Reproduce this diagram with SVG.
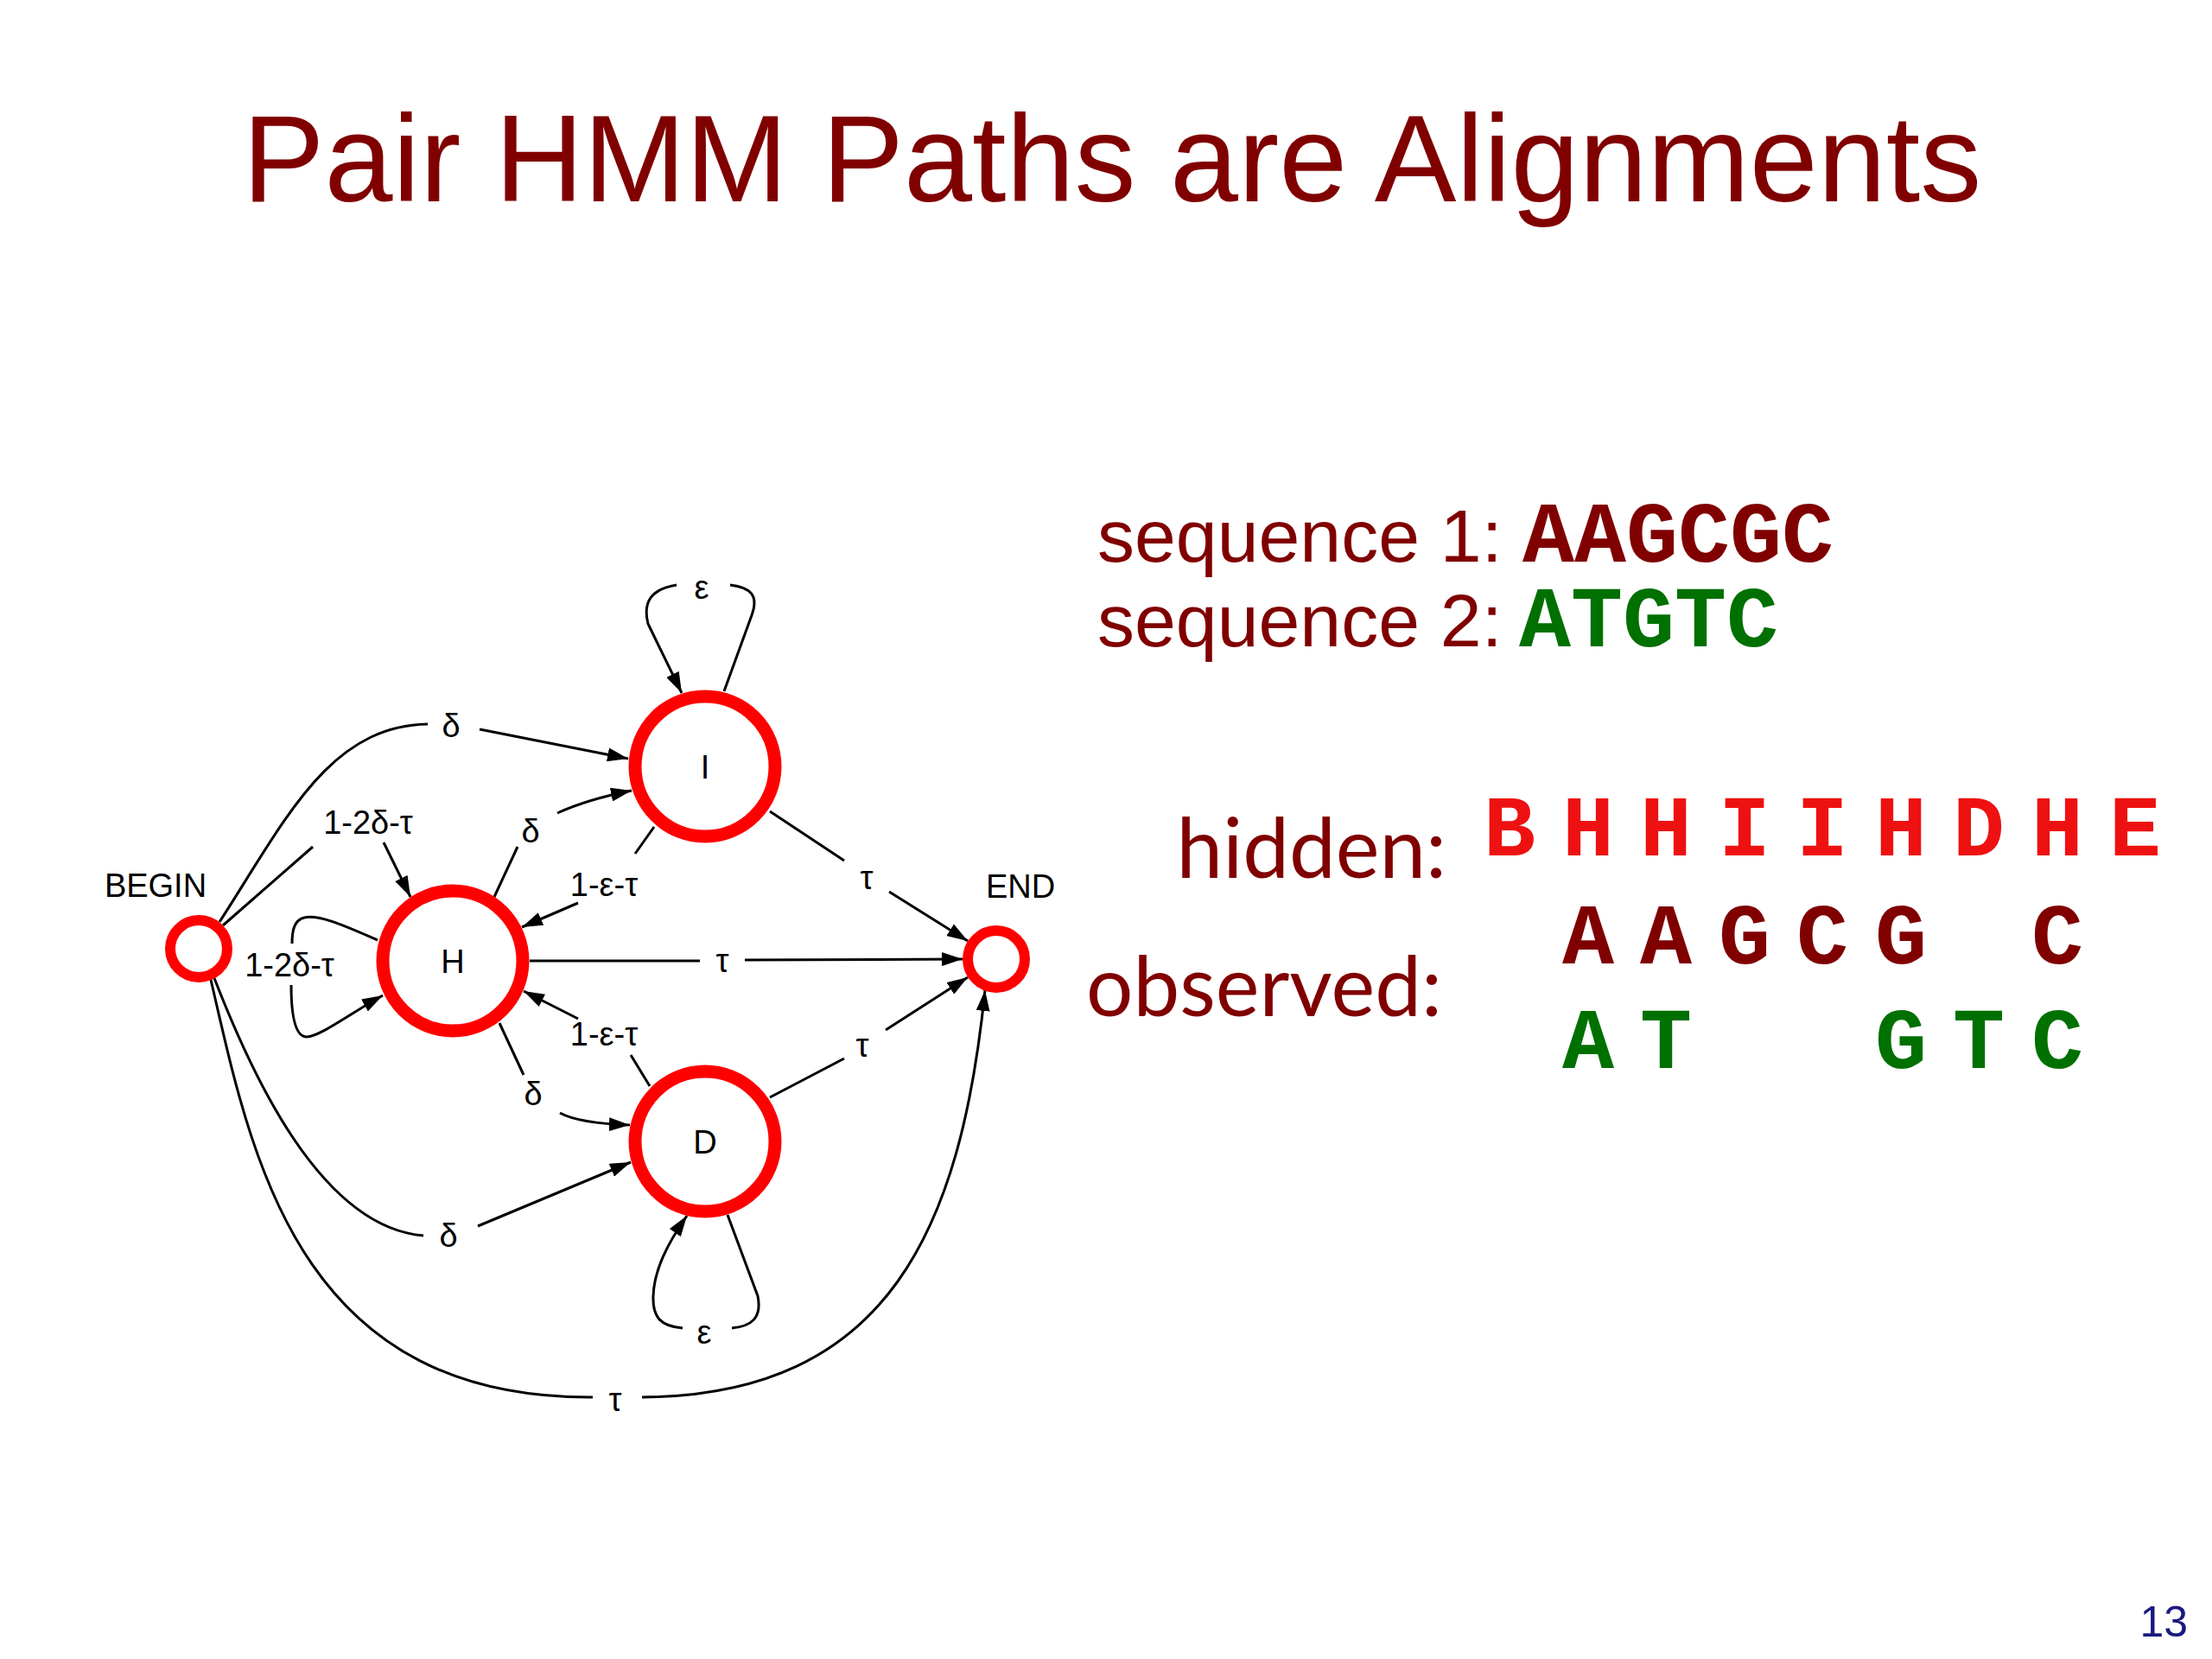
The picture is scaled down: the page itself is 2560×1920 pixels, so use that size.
<svg xmlns="http://www.w3.org/2000/svg" width="2560" height="1920" viewBox="0 0 2560 1920">
<defs>
<style>
.node{fill:none;stroke:#ff0000}
.big{stroke-width:15}
.small{stroke-width:12}
.edge{fill:none;stroke:#000;stroke-width:3}
.arr{marker-end:url(#ah)}
.lbl{font-family:"Liberation Sans",Arial,sans-serif;font-size:38px;fill:#000;text-anchor:middle}
.title{font-family:"Liberation Sans",Arial,sans-serif;font-size:142px;fill:#800000;text-anchor:middle}
.seq{font-family:"Liberation Sans",Arial,sans-serif;font-size:86px;fill:#800000}
.mono{font-family:"Courier New","Nimbus Mono PS","Nimbus Mono L",FreeMono,"Liberation Mono",monospace;font-weight:bold;font-size:100px}
.pre{white-space:pre}
.cal{font-family:Lato,"Open Sans",sans-serif;font-size:96px;fill:#800000}
.red{fill:#ee1111}
.dred{fill:#800000}
.grn{fill:#007000}
</style>
<marker id="ah" markerWidth="24" markerHeight="16" refX="24" refY="8" orient="auto" markerUnits="userSpaceOnUse">
<path d="M0,0 L24,8 L0,16 z" fill="#000"/>
</marker>
</defs>
<rect width="2560" height="1920" fill="#fff"/>
<text class="title" x="1287" y="233">Pair HMM Paths are Alignments</text>

<g id="connectors">
<!-- BEGIN -> I -->
<path class="edge" d="M254 1067 C330 950 380 840 495 838"/>
<path class="edge arr" d="M555 844 L727 878"/>
<text class="lbl" x="522" y="853">δ</text>
<!-- BEGIN -> H -->
<path class="edge" d="M258 1071 L362 980"/>
<path class="edge arr" d="M444 975 L475 1038"/>
<text class="lbl" x="426" y="965">1-2δ-τ</text>
<!-- H self loop -->
<path class="edge" d="M437 1088 C400 1072 370 1058 352 1062 C340 1065 338 1078 338 1092"/>
<path class="edge arr" d="M337 1140 C337 1170 340 1200 355 1200 C370 1200 410 1170 443 1152"/>
<text class="lbl" x="335" y="1130">1-2δ-τ</text>
<!-- BEGIN -> D -->
<path class="edge" d="M248 1132 C290 1240 370 1420 490 1430"/>
<path class="edge arr" d="M553 1419 L730 1345"/>
<text class="lbl" x="519" y="1443">δ</text>
<!-- BEGIN -> END -->
<path class="edge" d="M244 1134 C290 1330 340 1620 686 1617"/>
<path class="edge arr" d="M743 1617 C1030 1615 1112 1420 1140 1146"/>
<text class="lbl" x="712" y="1633">τ</text>
<!-- H -> I -->
<path class="edge" d="M572 1038 L599 980"/>
<path class="edge arr" d="M645 941 Q680 925 731 915"/>
<text class="lbl" x="614" y="975">δ</text>
<!-- I -> H -->
<path class="edge" d="M757 957 L735 988"/>
<path class="edge arr" d="M669 1045 L604 1073"/>
<text class="lbl" x="699" y="1037">1-ε-τ</text>
<!-- H -> END -->
<path class="edge" d="M613 1112 L810 1112"/>
<path class="edge arr" d="M862 1111 L1114 1110"/>
<text class="lbl" x="836" y="1125">τ</text>
<!-- I -> END -->
<path class="edge" d="M891 939 L977 996"/>
<path class="edge arr" d="M1029 1032 L1120 1089"/>
<text class="lbl" x="1003" y="1029">τ</text>
<!-- D -> END -->
<path class="edge" d="M891 1270 L977 1225"/>
<path class="edge arr" d="M1025 1192 L1120 1131"/>
<text class="lbl" x="998" y="1223">τ</text>
<!-- D -> H -->
<path class="edge" d="M752 1257 L730 1221"/>
<path class="edge arr" d="M669 1179 L606 1147"/>
<text class="lbl" x="699" y="1210">1-ε-τ</text>
<!-- H -> D -->
<path class="edge" d="M578 1184 L606 1244"/>
<path class="edge arr" d="M648 1288 Q670 1300 729 1302"/>
<text class="lbl" x="617" y="1279">δ</text>
<!-- I self loop -->
<path class="edge" d="M838 800 L870 712 C878 690 870 680 845 677"/>
<path class="edge arr" d="M783 677 C752 682 744 698 750 722 L789 802"/>
<text class="lbl" x="812" y="693">ε</text>
<!-- D self loop -->
<path class="edge" d="M842 1406 L877 1500 C882 1525 870 1535 847 1537"/>
<path class="edge arr" d="M790 1537 C765 1535 755 1525 756 1500 C757 1470 772 1440 795 1407"/>
<text class="lbl" x="815" y="1555">ε</text>
</g>

<g id="node-begin">
<circle class="node small" cx="230" cy="1098" r="33"/>
<text class="lbl" x="180" y="1038">BEGIN</text>
</g>
<g id="node-h">
<circle class="node big" cx="524" cy="1112" r="81"/>
<text class="lbl" x="524" y="1126">H</text>
</g>
<g id="node-i">
<circle class="node big" cx="816" cy="887" r="81"/>
<text class="lbl" x="816" y="901">I</text>
</g>
<g id="node-d">
<circle class="node big" cx="816" cy="1321" r="81"/>
<text class="lbl" x="816" y="1335">D</text>
</g>
<g id="node-end">
<circle class="node small" cx="1153" cy="1110" r="33"/>
<text class="lbl" x="1181" y="1039">END</text>
</g>

<g id="sequences">
<text class="seq" x="1270" y="650">sequence 1:</text>
<text class="mono dred" x="1762" y="650">AAGCGC</text>
<text class="seq" x="1270" y="748">sequence 2:</text>
<text class="mono grn" x="1758" y="748">ATGTC</text>
</g>

<g id="alignment">
<text class="cal" x="1674" y="1016" text-anchor="end">hidden:</text>
<text class="cal" x="1669" y="1176" text-anchor="end">observed:</text>
<text class="mono red pre" xml:space="preserve" text-anchor="middle" y="990" x="1747 1793 1838 1883 1928 1973 2019 2064 2109 2155 2200 2245 2290 2335 2381 2426 2471">B H H I I H D H E</text>
<text class="mono dred pre" xml:space="preserve" text-anchor="middle" y="1115" x="1838 1883 1928 1973 2019 2064 2109 2155 2200 2245 2290 2335 2381">A A G C G   C</text>
<text class="mono grn pre" xml:space="preserve" text-anchor="middle" y="1236" x="1838 1883 1928 1973 2019 2064 2109 2155 2200 2245 2290 2335 2381">A T     G T C</text>
</g>

<text x="2532" y="1894" font-family="'Liberation Sans',Arial,sans-serif" font-size="50" fill="#1a1a80" text-anchor="end">13</text>
</svg>
